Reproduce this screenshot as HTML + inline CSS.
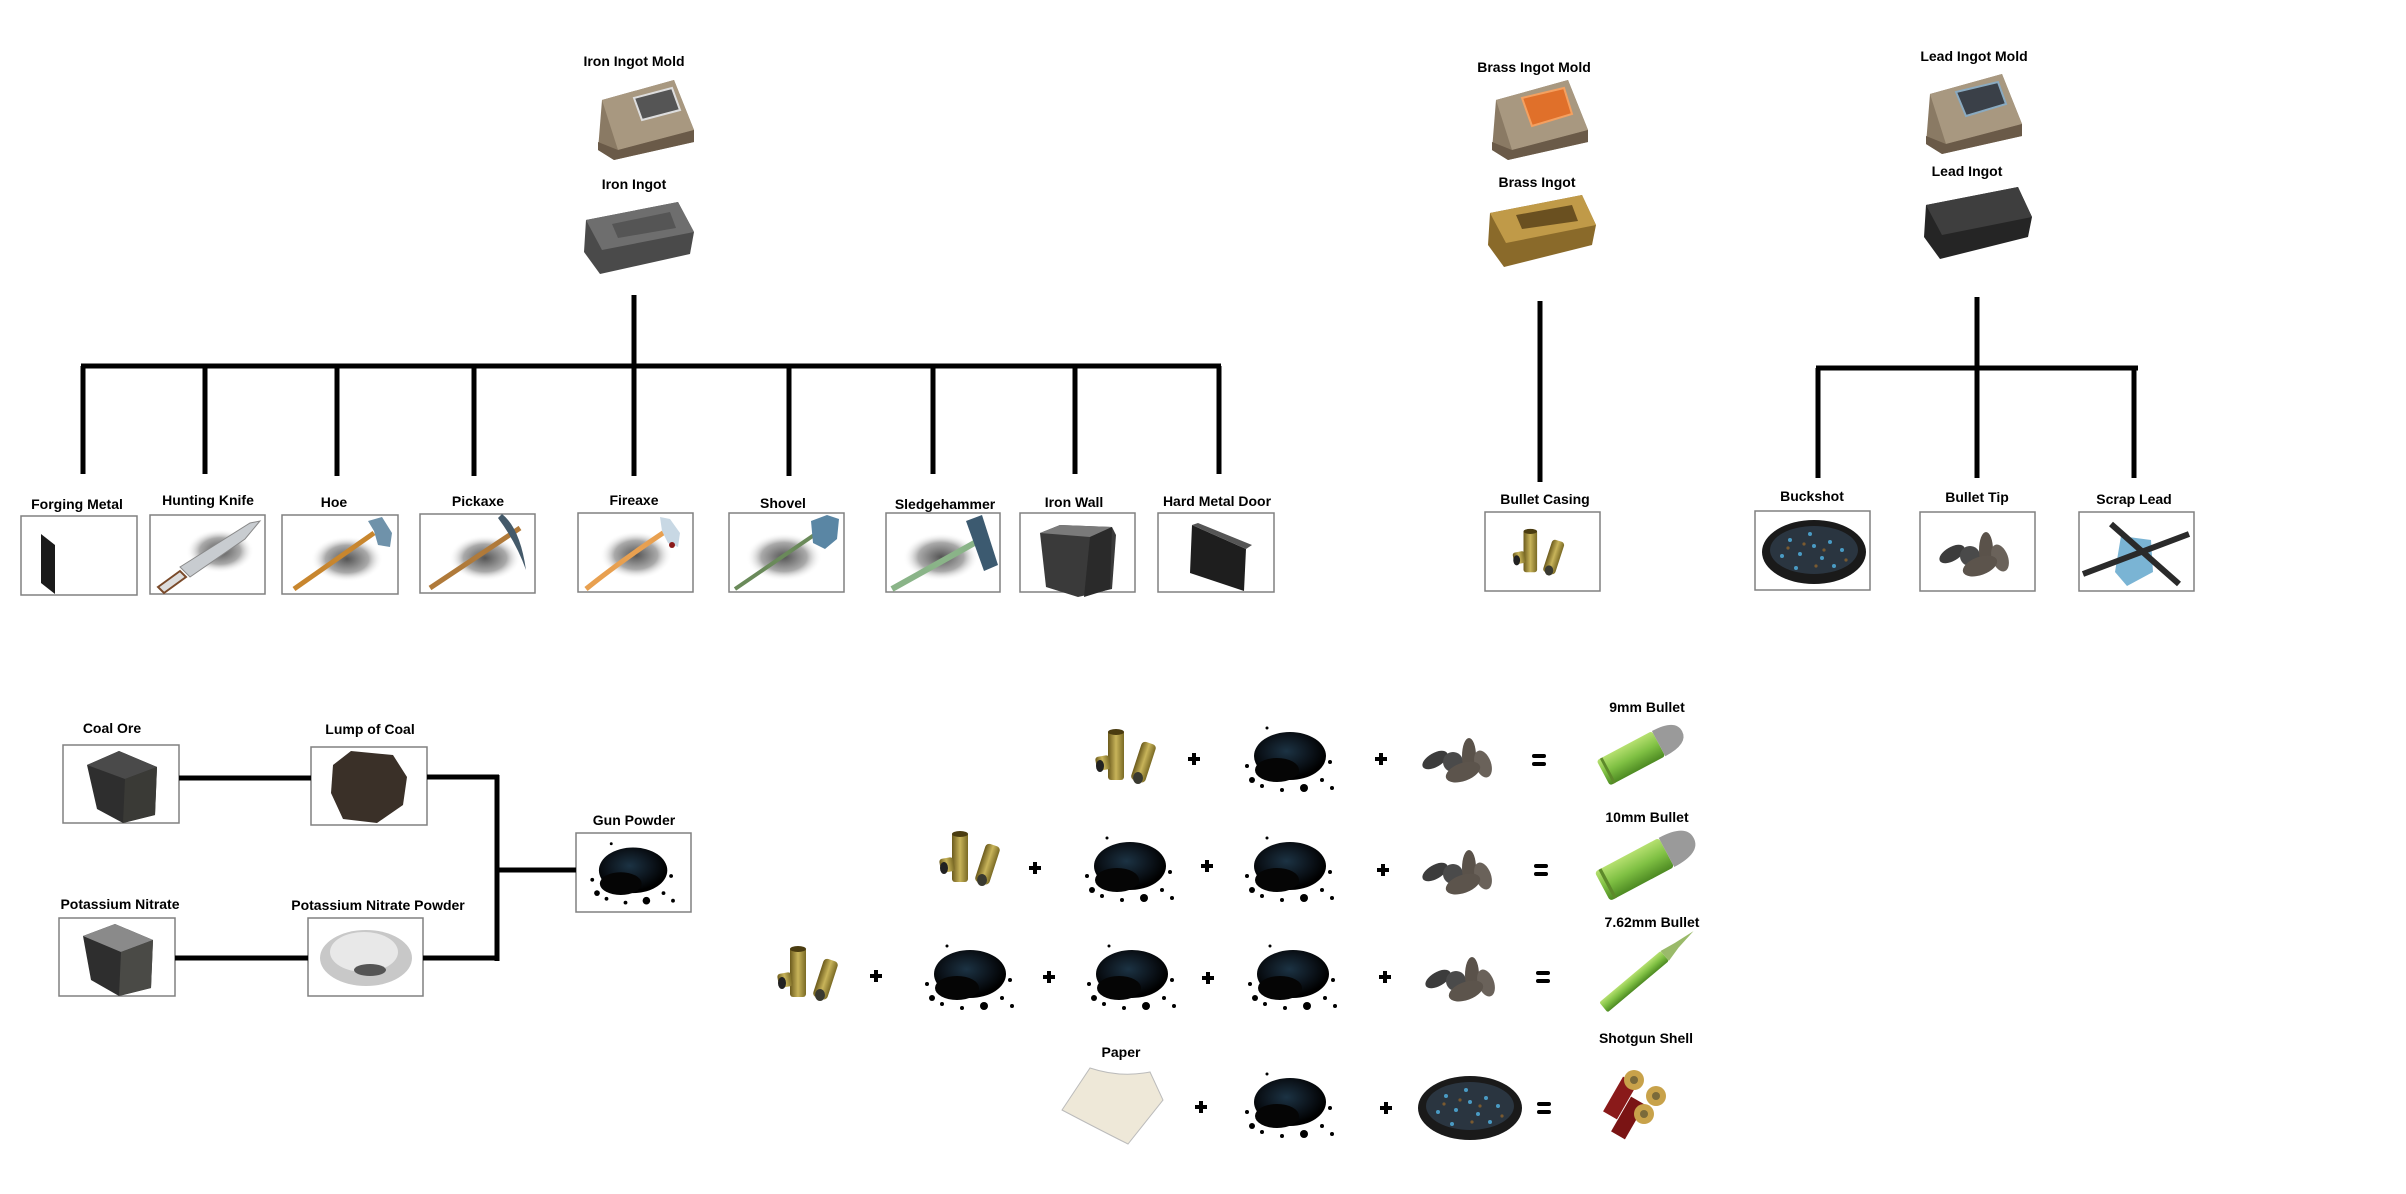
<!DOCTYPE html>
<html><head><meta charset="utf-8"><style>
html,body{margin:0;padding:0;background:#fff;width:2406px;height:1194px;overflow:hidden}
svg text{font-family:"Liberation Sans",Arial,sans-serif;font-weight:bold;font-size:14px;fill:#000;text-anchor:middle}
</style></head><body>
<svg width="2406" height="1194" viewBox="0 0 2406 1194" xmlns="http://www.w3.org/2000/svg">
<defs>
<radialGradient id="sh" cx="50%" cy="50%" r="50%"><stop offset="0" stop-color="#555"/><stop offset="0.6" stop-color="#aaa"/><stop offset="1" stop-color="#fff" stop-opacity="0"/></radialGradient>
<radialGradient id="gp" cx="45%" cy="40%" r="55%"><stop offset="0" stop-color="#1c3344"/><stop offset="0.6" stop-color="#0c141c"/><stop offset="1" stop-color="#000"/></radialGradient>
<linearGradient id="gold" x1="0" x2="1"><stop offset="0" stop-color="#6b5a1c"/><stop offset="0.5" stop-color="#c8b45a"/><stop offset="1" stop-color="#7a6a24"/></linearGradient>
<linearGradient id="green" x1="0" y1="0" x2="0" y2="1"><stop offset="0" stop-color="#b6e070"/><stop offset="0.5" stop-color="#7fc043"/><stop offset="1" stop-color="#4d8a22"/></linearGradient>
<g id="powder">
 <ellipse cx="58" cy="34" rx="36" ry="24" fill="url(#gp)"/>
 <ellipse cx="45" cy="48" rx="22" ry="12" fill="#050505"/>
 <circle cx="20" cy="58" r="3" fill="#000"/><circle cx="30" cy="64" r="2" fill="#000"/><circle cx="72" cy="66" r="4" fill="#000"/>
 <circle cx="90" cy="58" r="2" fill="#000"/><circle cx="100" cy="66" r="2" fill="#000"/><circle cx="15" cy="44" r="2" fill="#000"/>
 <circle cx="98" cy="40" r="2" fill="#000"/><circle cx="50" cy="68" r="2" fill="#000"/><circle cx="35" cy="6" r="1.5" fill="#000"/>
</g>
<g id="casing">
 <rect x="10" y="2" width="16" height="50" rx="3" fill="url(#gold)"/>
 <ellipse cx="18" cy="4" rx="8" ry="3" fill="#4a3c10"/>
 <rect x="-2" y="28" width="14" height="14" rx="3" fill="url(#gold)" transform="rotate(-10 5 35)"/>
 <ellipse cx="2" cy="38" rx="4" ry="6" fill="#222"/>
 <rect x="38" y="14" width="15" height="40" rx="4" fill="url(#gold)" transform="rotate(18 45 34)"/>
 <ellipse cx="40" cy="50" rx="5" ry="6" fill="#3a3a30"/>
</g>
<g id="tips">
 <ellipse cx="14" cy="22" rx="14" ry="7" fill="#3c3c3c" transform="rotate(-30 14 22)"/>
 <ellipse cx="32" cy="24" rx="10" ry="10" fill="#4a4a4a"/>
 <ellipse cx="48" cy="18" rx="7" ry="18" fill="#5a524a"/>
 <ellipse cx="62" cy="26" rx="8" ry="14" fill="#6a625a" transform="rotate(-20 62 26)"/>
 <ellipse cx="42" cy="34" rx="18" ry="9" fill="#5c544c" transform="rotate(-20 42 34)"/>
</g>
<g id="buck">
 <ellipse cx="54" cy="32" rx="52" ry="32" fill="#1a1a1a"/>
 <ellipse cx="54" cy="30" rx="44" ry="24" fill="#2a3540"/>
 <g fill="#4a9bc4"><circle cx="30" cy="20" r="2"/><circle cx="50" cy="14" r="2"/><circle cx="70" cy="22" r="2"/><circle cx="40" cy="34" r="2"/><circle cx="62" cy="38" r="2"/><circle cx="82" cy="30" r="2"/><circle cx="22" cy="36" r="2"/><circle cx="54" cy="26" r="2"/><circle cx="74" cy="46" r="2"/><circle cx="36" cy="48" r="2"/></g>
 <g fill="#7a5a30"><circle cx="44" cy="24" r="1.6"/><circle cx="64" cy="30" r="1.6"/><circle cx="86" cy="40" r="1.6"/><circle cx="28" cy="28" r="1.6"/><circle cx="56" cy="46" r="1.6"/></g>
</g>
<g id="mold">
 <path d="M8 20 L80 0 L100 50 L100 62 L20 80 L4 70 Z" fill="#8a7a64"/>
 <path d="M8 20 L80 0 L100 50 L24 70 Z" fill="#a89880"/>
 <path d="M4 62 L24 70 L100 50 L100 62 L20 80 L4 70 Z" fill="#6a5a48"/>
</g>
<g id="bullet">
 <g transform="rotate(-28 46 28)">
  <rect x="2" y="14" width="66" height="30" rx="3" fill="url(#green)"/>
  <rect x="6" y="14" width="3" height="30" fill="#5d8a2a"/>
  <path d="M68 14 Q96 14 96 29 Q96 44 68 44 Z" fill="#9a9a9a"/>
 </g>
</g>
<g id="plus"><rect x="-6" y="-2" width="12" height="4"/><rect x="-2" y="-6" width="4" height="12"/></g>
<g id="eq"><rect x="-7" y="-6" width="14" height="4" rx="2"/><rect x="-7" y="2" width="14" height="4" rx="2"/></g>
</defs>

<!-- ===== Iron tree ===== -->
<text x="634" y="66">Iron Ingot Mold</text>
<g transform="translate(594,80)"><use href="#mold"/><path d="M40 18 L78 8 L86 30 L48 40 Z" fill="#555" stroke="#ddd" stroke-width="2"/></g>
<text x="634" y="189">Iron Ingot</text>
<g transform="translate(582,202)"><path d="M4 18 L96 0 L112 30 L108 52 L18 72 L2 50 Z" fill="#4a4a4a"/><path d="M4 18 L96 0 L112 30 L20 48 Z" fill="#6e6e6e"/><path d="M30 22 L88 10 L94 26 L36 36 Z" fill="#555"/></g>

<g stroke="#000" stroke-width="5" fill="none">
 <line x1="634" y1="295" x2="634" y2="366"/>
 <line x1="81" y1="366" x2="1221" y2="366"/>
 <line x1="83" y1="366" x2="83" y2="474"/>
 <line x1="205" y1="366" x2="205" y2="474"/>
 <line x1="337" y1="366" x2="337" y2="476"/>
 <line x1="474" y1="366" x2="474" y2="476"/>
 <line x1="634" y1="366" x2="634" y2="476"/>
 <line x1="789" y1="366" x2="789" y2="476"/>
 <line x1="933" y1="366" x2="933" y2="474"/>
 <line x1="1075" y1="366" x2="1075" y2="474"/>
 <line x1="1219" y1="366" x2="1219" y2="474"/>
</g>

<text x="77" y="509">Forging Metal</text>
<text x="208" y="505">Hunting Knife</text>
<text x="334" y="507">Hoe</text>
<text x="478" y="506">Pickaxe</text>
<text x="634" y="505">Fireaxe</text>
<text x="783" y="508">Shovel</text>
<text x="945" y="509">Sledgehammer</text>
<text x="1074" y="507">Iron Wall</text>
<text x="1217" y="506">Hard Metal Door</text>

<g fill="#fff" stroke="#808080" stroke-width="1.5">
 <rect x="21" y="516" width="116" height="79"/>
 <rect x="150" y="515" width="115" height="79"/>
 <rect x="282" y="515" width="116" height="79"/>
 <rect x="420" y="514" width="115" height="79"/>
 <rect x="578" y="513" width="115" height="79"/>
 <rect x="729" y="513" width="115" height="79"/>
 <rect x="886" y="513" width="114" height="79"/>
 <rect x="1020" y="513" width="115" height="79"/>
 <rect x="1158" y="513" width="116" height="79"/>
</g>
<!-- forging metal -->
<path d="M41 534 L55 545 L55 594 L41 583 Z" fill="#1a1a1a"/>
<!-- knife -->
<g transform="translate(150,515)"><ellipse cx="70" cy="36" rx="34" ry="22" fill="url(#sh)"/><path d="M30 52 L100 8 L110 6 L95 24 L40 62 Z" fill="#c8ccd0" stroke="#888" stroke-width="1"/><path d="M8 72 L30 56 L36 62 L14 78 Z" fill="#ddd" stroke="#7a4a2a" stroke-width="2"/></g>
<!-- hoe -->
<g transform="translate(282,515)"><ellipse cx="65" cy="44" rx="36" ry="23" fill="url(#sh)"/><line x1="12" y1="74" x2="92" y2="18" stroke="#c8862e" stroke-width="5"/><path d="M86 6 L100 2 L110 18 L108 32 L96 30 L92 16 Z" fill="#6f92aa"/></g>
<!-- pickaxe -->
<g transform="translate(420,514)"><ellipse cx="65" cy="44" rx="36" ry="23" fill="url(#sh)"/><line x1="10" y1="74" x2="100" y2="14" stroke="#b07a3a" stroke-width="5"/><path d="M82 0 Q100 14 106 56 Q96 28 78 4 Z" fill="#445a6a"/></g>
<!-- fireaxe -->
<g transform="translate(578,513)"><ellipse cx="58" cy="42" rx="36" ry="24" fill="url(#sh)"/><path d="M8 76 Q40 50 88 18" stroke="#e8a050" stroke-width="5" fill="none"/><path d="M82 4 L92 6 L102 20 L100 34 L90 30 L84 18 Z" fill="#c8d8e4"/><circle cx="94" cy="32" r="3" fill="#8a1a1a"/></g>
<!-- shovel -->
<g transform="translate(729,513)"><ellipse cx="55" cy="44" rx="38" ry="24" fill="url(#sh)"/><line x1="6" y1="76" x2="88" y2="20" stroke="#6a8a5a" stroke-width="4"/><path d="M82 8 L98 2 L110 6 L108 26 L96 36 L84 30 Z" fill="#5a86a4"/></g>
<!-- sledgehammer -->
<g transform="translate(886,513)"><ellipse cx="55" cy="44" rx="38" ry="24" fill="url(#sh)"/><line x1="6" y1="76" x2="92" y2="28" stroke="#8ab488" stroke-width="6"/><path d="M80 8 L96 2 L112 52 L98 58 Z" fill="#3c5a70"/></g>
<!-- iron wall -->
<g transform="translate(1020,513)"><path d="M20 20 L40 12 L92 14 L96 22 L92 76 L58 84 L26 74 Z" fill="#3a3a3a"/><path d="M20 20 L40 12 L92 14 L70 24 Z" fill="#7a7a7a"/><path d="M70 24 L92 14 L90 76 L64 84 Z" fill="#2a2a2a"/></g>
<!-- hard metal door -->
<g transform="translate(1158,513)"><path d="M34 12 L88 36 L86 78 L32 60 Z" fill="#1e1e1e"/><path d="M34 12 L40 10 L94 32 L88 36 Z" fill="#555"/></g>

<!-- ===== Brass ===== -->
<text x="1534" y="72">Brass Ingot Mold</text>
<g transform="translate(1488,80)"><use href="#mold"/><path d="M34 18 L76 8 L84 34 L44 46 Z" fill="#e0702a" stroke="#f4a060" stroke-width="2"/></g>
<text x="1537" y="187">Brass Ingot</text>
<g transform="translate(1486,195)"><path d="M4 18 L96 0 L110 30 L106 50 L18 72 L2 50 Z" fill="#8a6a2a"/><path d="M4 18 L96 0 L110 30 L20 48 Z" fill="#c09a48"/><path d="M30 20 L86 10 L92 26 L36 34 Z" fill="#6a5020"/></g>
<line x1="1540" y1="301" x2="1540" y2="482" stroke="#000" stroke-width="5"/>
<text x="1545" y="504">Bullet Casing</text>
<rect x="1485" y="512" width="115" height="79" fill="#fff" stroke="#808080" stroke-width="1.5"/>
<g transform="translate(1515,528) scale(0.85)"><use href="#casing"/></g>

<!-- ===== Lead ===== -->
<text x="1974" y="61">Lead Ingot Mold</text>
<g transform="translate(1922,74)"><use href="#mold"/><path d="M34 18 L76 8 L84 30 L44 42 Z" fill="#3a4048" stroke="#8aaac0" stroke-width="2"/></g>
<text x="1967" y="176">Lead Ingot</text>
<g transform="translate(1922,187)"><path d="M4 18 L96 0 L110 30 L106 50 L18 72 L2 50 Z" fill="#252525"/><path d="M4 18 L96 0 L110 30 L20 48 Z" fill="#3e3e3e"/></g>
<g stroke="#000" stroke-width="5" fill="none">
 <line x1="1977" y1="297" x2="1977" y2="478"/>
 <line x1="1816" y1="368" x2="2138" y2="368"/>
 <line x1="1818" y1="368" x2="1818" y2="478"/>
 <line x1="2134" y1="368" x2="2134" y2="478"/>
</g>
<text x="1812" y="501">Buckshot</text>
<text x="1977" y="502">Bullet Tip</text>
<text x="2134" y="504">Scrap Lead</text>
<g fill="#fff" stroke="#808080" stroke-width="1.5">
 <rect x="1755" y="511" width="115" height="79"/>
 <rect x="1920" y="512" width="115" height="79"/>
 <rect x="2079" y="512" width="115" height="79"/>
</g>
<g transform="translate(1760,520) scale(1.0)"><use href="#buck"/></g>
<g transform="translate(1938,532)"><use href="#tips"/></g>
<g transform="translate(2079,512)"><path d="M42 24 L72 28 L74 60 L48 74 L36 60 Z" fill="#7ab4d4"/><line x1="32" y1="12" x2="100" y2="72" stroke="#2a2a2a" stroke-width="6"/><line x1="4" y1="62" x2="110" y2="22" stroke="#2a2a2a" stroke-width="6"/></g>

<!-- ===== Coal / gun powder ===== -->
<text x="112" y="733">Coal Ore</text>
<text x="370" y="734">Lump of Coal</text>
<text x="634" y="825">Gun Powder</text>
<text x="120" y="909">Potassium Nitrate</text>
<text x="378" y="910">Potassium Nitrate Powder</text>
<g fill="#fff" stroke="#808080" stroke-width="1.5">
 <rect x="63" y="745" width="116" height="78"/>
 <rect x="311" y="747" width="116" height="78"/>
 <rect x="576" y="833" width="115" height="79"/>
 <rect x="59" y="918" width="116" height="78"/>
 <rect x="308" y="918" width="115" height="78"/>
</g>
<g stroke="#000" stroke-width="5" fill="none">
 <line x1="179" y1="778" x2="311" y2="778"/>
 <line x1="427" y1="777" x2="499" y2="777"/>
 <line x1="497" y1="775" x2="497" y2="961"/>
 <line x1="497" y1="870" x2="576" y2="870"/>
 <line x1="175" y1="958" x2="308" y2="958"/>
 <line x1="423" y1="958" x2="499" y2="958"/>
</g>
<!-- coal ore -->
<g transform="translate(63,745)"><path d="M24 20 L56 6 L94 22 L92 70 L60 78 L34 64 Z" fill="#2e2e2e"/><path d="M24 20 L56 6 L94 22 L62 34 Z" fill="#4a4a4a"/><path d="M62 34 L94 22 L92 70 L60 78 Z" fill="#3a3a36"/></g>
<!-- lump of coal -->
<g transform="translate(311,747)"><path d="M40 4 L82 8 L96 30 L92 58 L66 76 L32 72 L20 46 L22 18 Z" fill="#3a3028"/></g>
<!-- KNO3 -->
<g transform="translate(59,918)"><path d="M24 18 L56 6 L94 22 L92 70 L60 78 L32 62 Z" fill="#2e2e2e"/><path d="M24 18 L56 6 L94 22 L62 34 Z" fill="#8a8a8a"/><path d="M62 34 L94 22 L92 70 L60 78 Z" fill="#4a4a46"/></g>
<!-- KNO3 powder -->
<g transform="translate(308,918)"><ellipse cx="58" cy="40" rx="46" ry="28" fill="#c8c8c8"/><ellipse cx="56" cy="34" rx="34" ry="20" fill="#e8e8e8"/><ellipse cx="62" cy="52" rx="16" ry="6" fill="#555"/></g>
<!-- gun powder -->
<g transform="translate(578,838) scale(0.95)"><use href="#powder"/></g>

<!-- ===== Bullet recipes ===== -->
<!-- row 1 -->
<g transform="translate(1098,728)"><use href="#casing"/></g>
<use href="#plus" x="1194" y="759"/>
<g transform="translate(1232,722)"><use href="#powder"/></g>
<use href="#plus" x="1381" y="759"/>
<g transform="translate(1421,738)"><use href="#tips"/></g>
<use href="#eq" x="1539" y="760"/>
<text x="1647" y="712">9mm Bullet</text>
<g transform="translate(1596,726) scale(0.95)"><use href="#bullet"/></g>

<!-- row 2 -->
<g transform="translate(942,830)"><use href="#casing"/></g>
<use href="#plus" x="1035" y="868"/>
<g transform="translate(1072,832)"><use href="#powder"/></g>
<use href="#plus" x="1207" y="866"/>
<g transform="translate(1232,832)"><use href="#powder"/></g>
<use href="#plus" x="1383" y="870"/>
<g transform="translate(1421,850)"><use href="#tips"/></g>
<use href="#eq" x="1541" y="870"/>
<text x="1647" y="822">10mm Bullet</text>
<g transform="translate(1594,832) scale(1.1)"><use href="#bullet"/></g>

<!-- row 3 -->
<g transform="translate(780,945)"><use href="#casing"/></g>
<use href="#plus" x="876" y="976"/>
<g transform="translate(912,940)"><use href="#powder"/></g>
<use href="#plus" x="1049" y="977"/>
<g transform="translate(1074,940)"><use href="#powder"/></g>
<use href="#plus" x="1208" y="978"/>
<g transform="translate(1235,940)"><use href="#powder"/></g>
<use href="#plus" x="1385" y="977"/>
<g transform="translate(1424,957)"><use href="#tips"/></g>
<use href="#eq" x="1543" y="977"/>
<text x="1652" y="927">7.62mm Bullet</text>
<g transform="translate(1590,935)"><g transform="rotate(-40 56 36)"><rect x="0" y="30" width="80" height="13" rx="2" fill="url(#green)"/><path d="M80 30 L96 33 L118 36 L96 39 L80 43 Z" fill="#9aba6a"/></g></g>

<!-- row 4 -->
<text x="1121" y="1057">Paper</text>
<path d="M1062 1110 L1090 1068 Q1120 1078 1150 1072 L1163 1100 L1128 1144 Q1100 1130 1062 1110 Z" fill="#eee8d8" stroke="#bbb" stroke-width="1"/>
<use href="#plus" x="1201" y="1107"/>
<g transform="translate(1232,1068)"><use href="#powder"/></g>
<use href="#plus" x="1386" y="1108"/>
<g transform="translate(1416,1076)"><use href="#buck"/></g>
<use href="#eq" x="1544" y="1108"/>
<text x="1646" y="1043">Shotgun Shell</text>
<g transform="translate(1600,1068)">
 <rect x="0" y="22" width="40" height="16" fill="#8a1a1a" transform="rotate(-60 20 30)"/>
 <rect x="8" y="42" width="40" height="16" fill="#7a1414" transform="rotate(-60 28 50)"/>
 <circle cx="34" cy="12" r="10" fill="#c8a24a"/><circle cx="34" cy="12" r="4" fill="#7a6a3a"/>
 <circle cx="56" cy="28" r="10" fill="#c8a24a"/><circle cx="56" cy="28" r="4" fill="#7a6a3a"/>
 <circle cx="44" cy="46" r="10" fill="#c8a24a"/><circle cx="44" cy="46" r="4" fill="#7a6a3a"/>
</g>
</svg>
</body></html>
